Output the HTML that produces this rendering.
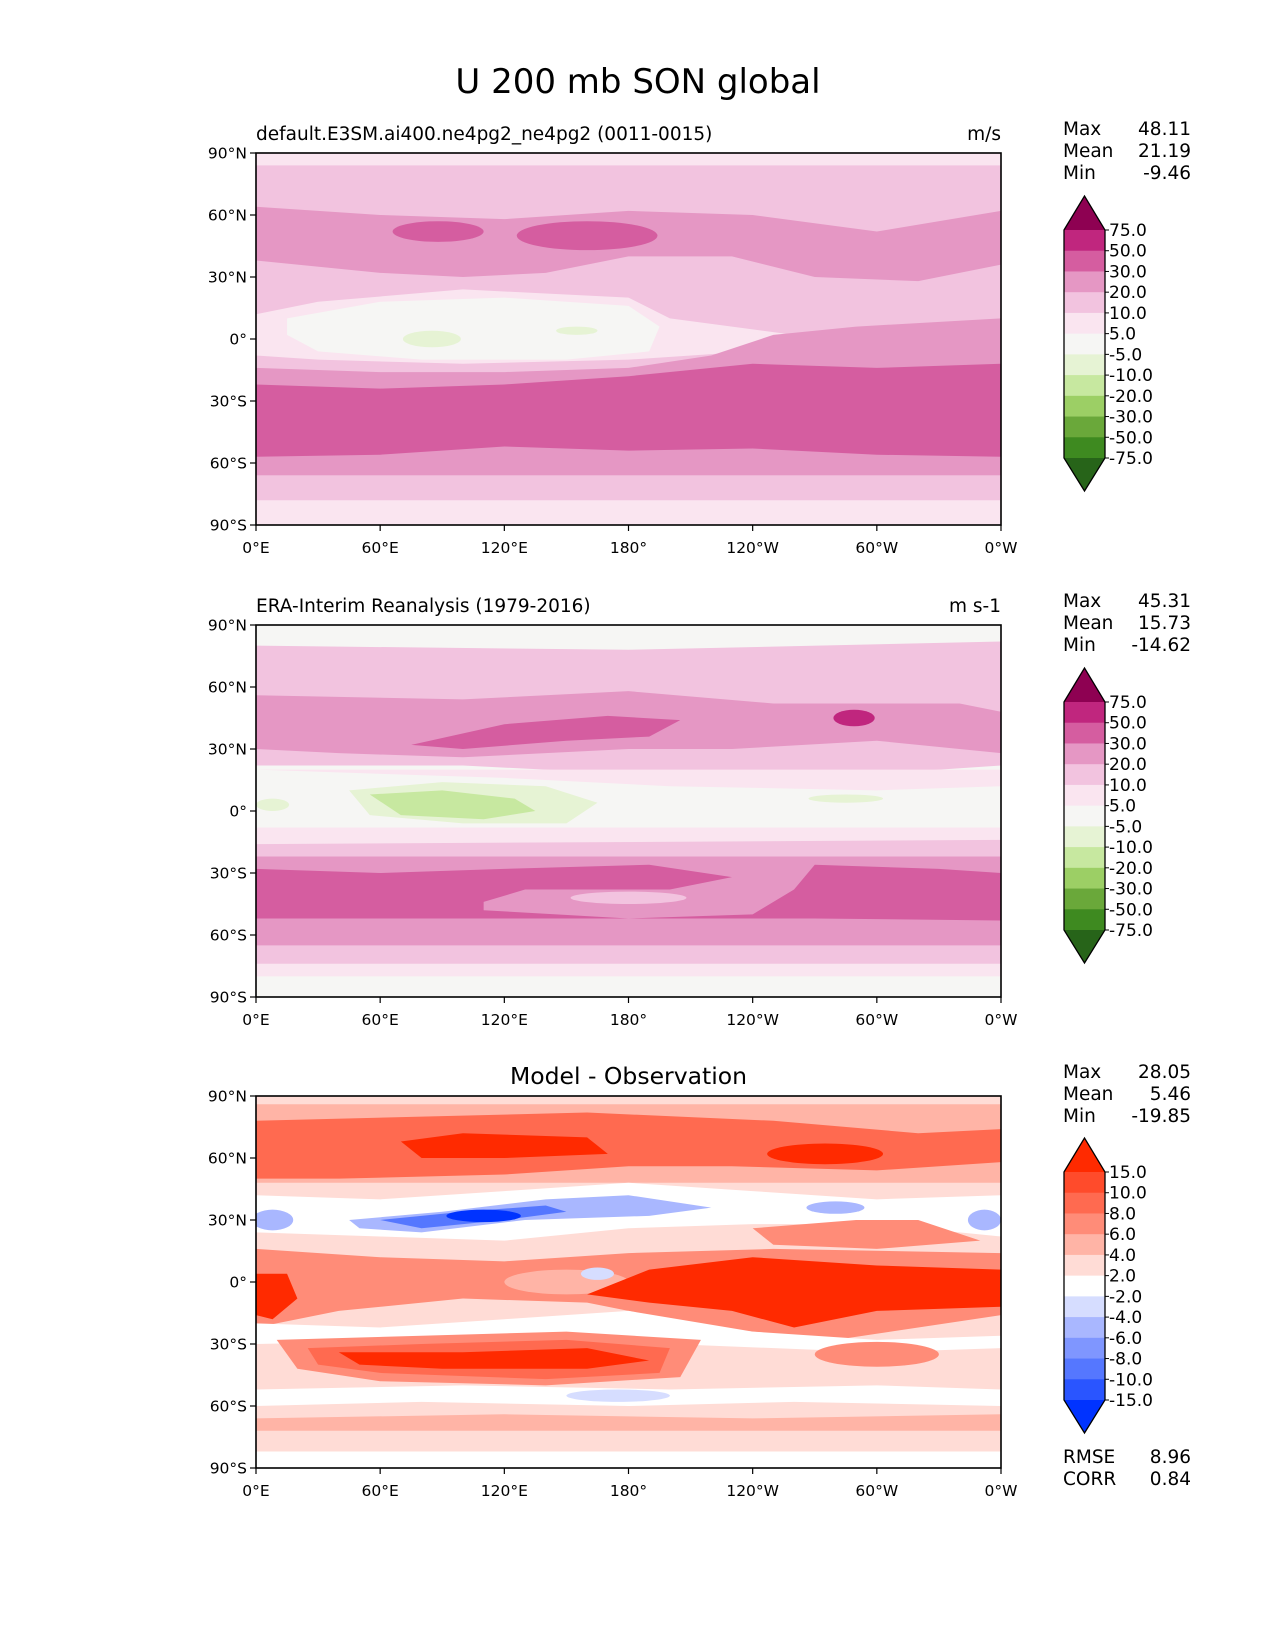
<!DOCTYPE html>
<html><head><meta charset="utf-8">
<style>
body{margin:0;background:#fff;}
svg{display:block;font-family:"DejaVu Sans","Liberation Sans",sans-serif;}
</style></head>
<body>
<svg id="fig" width="1275" height="1650" viewBox="0 0 1275 1650" xmlns="http://www.w3.org/2000/svg">
<text x="638" y="93" font-size="34" text-anchor="middle">U 200 mb SON global</text>
</svg>
<script>
// ---- data ----
const cmapMain = ["#8e0152","#c0267e","#d55da0","#e597c4","#f2c3df","#fae5f0","#f6f6f4","#e6f3d4","#c7e8a0","#9ccf65","#6aa83a","#3e8a20","#276419"];
const levelsMain = ["75.0","50.0","30.0","20.0","10.0","5.0","-5.0","-10.0","-20.0","-30.0","-50.0","-75.0"];
const cmapDiff = ["#ff2a00","#ff4b2b","#ff6a50","#ff8c78","#ffb4a6","#ffdcd6","#ffffff","#d6ddff","#a9b7ff","#7f96ff","#5577ff","#2a55ff","#0033ff"];
const levelsDiff = ["15.0","10.0","8.0","6.0","4.0","2.0","-2.0","-4.0","-6.0","-8.0","-10.0","-15.0"];
const latTicks = [90,60,30,0,-30,-60,-90];
const latLabels = ["90°N","60°N","30°N","0°","30°S","60°S","90°S"];
const lonTicks = [0,60,120,180,240,300,360];
const lonLabels = ["0°E","60°E","120°E","180°","120°W","60°W","0°W"];
const statsModel = [["Max","48.11"],["Mean","21.19"],["Min","-9.46"]];
const statsObs = [["Max","45.31"],["Mean","15.73"],["Min","-14.62"]];
const statsDiff = [["Max","28.05"],["Mean","5.46"],["Min","-19.85"]];
const metricsDiff = [["RMSE","8.96"],["CORR","0.84"]];
const fieldModel = [
 {c:4,p:[[0,90],[360,90],[360,-90],[0,-90]]},
 {c:5,p:[[0,90],[360,90],[360,84],[0,84]]},
 {c:3,p:[[0,64],[60,60],[120,58],[180,62],[240,60],[300,52],[360,62],[360,36],[320,28],[270,30],[230,40],[180,40],[140,32],[100,30],[60,32],[0,38]]},
 {c:2,e:[88,52,22,5]},{c:2,e:[160,50,34,7]},
 {c:5,p:[[0,12],[30,18],[100,24],[180,20],[200,10],[230,6],[260,2],[240,-6],[180,-10],[100,-12],[30,-10],[0,-8]]},
 {c:6,p:[[15,10],[60,18],[120,20],[180,16],[195,6],[190,-6],[150,-10],[80,-10],[30,-6],[15,2]]},
 {c:7,e:[85,0,14,4]},{c:7,e:[155,4,10,2]},
 {c:3,p:[[0,-14],[60,-16],[120,-16],[180,-14],[220,-8],[250,2],[290,6],[360,10],[360,-66],[0,-66]]},
 {c:2,p:[[0,-22],[60,-24],[120,-22],[180,-18],[240,-12],[300,-14],[360,-12],[360,-57],[300,-56],[240,-53],[180,-54],[120,-52],[60,-56],[0,-57]]},
 {c:4,p:[[0,-66],[360,-66],[360,-78],[0,-78]]},
 {c:5,p:[[0,-78],[360,-78],[360,-90],[0,-90]]}
];
const fieldObs = [
 {c:6,p:[[0,90],[360,90],[360,-90],[0,-90]]},
 {c:4,p:[[0,80],[180,78],[360,82],[360,22],[300,18],[240,14],[180,18],[100,22],[0,22]]},
 {c:3,p:[[0,56],[100,54],[180,58],[250,52],[340,52],[360,48],[360,28],[300,34],[230,30],[180,30],[100,26],[40,28],[0,30]]},
 {c:2,p:[[75,32],[120,42],[170,46],[205,44],[190,36],[150,34],[100,30]]},
 {c:1,e:[289,45,10,4]},
 {c:5,p:[[0,20],[120,16],[200,12],[300,10],[360,12],[360,20],[0,20]]},
 {c:7,p:[[45,10],[90,14],[140,12],[165,4],[150,-6],[100,-6],[55,-2]]},
 {c:8,p:[[55,8],[90,10],[125,6],[135,0],[110,-4],[70,-2]]},
 {c:7,e:[285,6,18,2]},{c:7,e:[8,3,8,3]},
 {c:5,p:[[0,-8],[360,-8],[360,-20],[0,-20]]},
 {c:4,p:[[0,-16],[360,-14],[360,-24],[0,-24]]},
 {c:3,p:[[0,-22],[360,-22],[360,-68],[0,-68]]},
 {c:2,p:[[0,-28],[60,-30],[120,-28],[190,-26],[230,-32],[200,-38],[130,-38],[110,-44],[110,-48],[180,-52],[240,-50],[260,-38],[270,-26],[330,-28],[360,-30],[360,-53],[270,-52],[190,-52],[100,-52],[0,-52]]},
 {c:4,e:[180,-42,28,3]},
 {c:4,p:[[0,-65],[360,-65],[360,-74],[0,-74]]},
 {c:5,p:[[0,-74],[360,-74],[360,-80],[0,-80]]}
];
const fieldDiff = [
 {c:5,p:[[0,90],[360,90],[360,-90],[0,-90]]},
 {c:4,p:[[0,86],[360,86],[360,48],[0,48]]},
 {c:2,p:[[0,78],[80,80],[160,82],[250,78],[320,72],[360,74],[360,58],[300,54],[230,56],[180,56],[120,52],[40,50],[0,50]]},
 {c:0,p:[[70,68],[100,72],[160,70],[170,62],[120,60],[80,60]]},
 {c:0,e:[275,62,28,5]},
 {c:6,p:[[0,42],[60,40],[120,44],[180,48],[240,44],[300,40],[360,42],[360,22],[300,28],[240,28],[180,26],[120,20],[60,22],[0,24]]},
 {c:8,p:[[45,30],[90,34],[140,40],[180,42],[220,36],[190,32],[130,30],[80,24],[50,26]]},
 {c:10,p:[[60,30],[100,34],[140,37],[150,34],[120,30],[80,26]]},
 {c:12,e:[110,32,18,3]},
 {c:8,e:[8,30,10,5]},{c:8,e:[352,30,8,5]},{c:8,e:[280,36,14,3]},
 {c:3,p:[[240,26],[290,30],[320,30],[350,20],[300,16],[250,18]]},
 {c:3,p:[[0,16],[60,12],[120,10],[180,14],[250,16],[360,14],[360,-16],[280,-28],[220,-22],[160,-10],[100,-8],[40,-14],[0,-22]]},
 {c:4,e:[150,0,30,6]},
 {c:0,p:[[190,6],[240,12],[300,8],[360,6],[360,-12],[300,-14],[260,-22],[230,-14],[190,-10],[160,-6]]},
 {c:0,p:[[0,4],[15,4],[20,-8],[8,-18],[0,-16]]},
 {c:7,e:[165,4,8,3]},
 {c:6,p:[[0,-20],[60,-22],[120,-18],[180,-14],[240,-24],[300,-28],[360,-26],[360,-32],[300,-34],[200,-30],[100,-28],[0,-30]]},
 {c:3,p:[[10,-28],[80,-26],[150,-24],[215,-28],[205,-46],[140,-50],[60,-48],[20,-42]]},
 {c:2,p:[[25,-32],[80,-30],[150,-28],[200,-32],[195,-44],[140,-47],[60,-44],[30,-40]]},
 {c:0,p:[[40,-34],[100,-34],[160,-32],[190,-38],[160,-42],[90,-42],[50,-40]]},
 {c:3,e:[300,-35,30,6]},
 {c:6,p:[[0,-52],[100,-50],[200,-52],[300,-50],[360,-52],[360,-60],[260,-58],[180,-60],[80,-58],[0,-60]]},
 {c:7,e:[175,-55,25,3]},
 {c:4,p:[[0,-66],[120,-64],[240,-66],[360,-64],[360,-72],[0,-72]]},
 {c:6,p:[[0,-82],[360,-82],[360,-90],[0,-90]]}
];
// ---- drawing ----
const NS="http://www.w3.org/2000/svg";
const svg=document.getElementById('fig');
function mk(tag,attrs,parent){const e=document.createElementNS(NS,tag);for(const k in attrs)e.setAttribute(k,attrs[k]);(parent||svg).appendChild(e);return e;}
const MX=256,MW=745,MH=372;
function drawPanel(y0,field,cmap,title,units,centerTitle,pname){
  const g=mk('g',{});
  
  
  const lonX=l=>MX+l/360*MW, latY=la=>y0+(90-la)/180*MH;
  const cid='clip'+y0;
  const cp=mk('clipPath',{id:cid},g);mk('rect',{x:MX,y:y0,width:MW,height:MH},cp);
  const fg=mk('g',{'clip-path':'url(#'+cid+')'},g);
  field.forEach(s=>{
    let el;
    if(s.p){el=mk('polygon',{points:s.p.map(q=>lonX(q[0])+','+latY(q[1])).join(' '),fill:cmap[s.c]},fg);}
    else{el=mk('ellipse',{cx:lonX(s.e[0]),cy:latY(s.e[1]),rx:s.e[2]/360*MW,ry:s.e[3]/180*MH,fill:cmap[s.c]},fg);}
    
    
  });
  mk('rect',{x:MX,y:y0,width:MW,height:MH,fill:'none',stroke:'#000','stroke-width':1.6},g);
  latTicks.forEach((la,i)=>{const y=latY(la);mk('line',{x1:MX-6,x2:MX,y1:y,y2:y,stroke:'#000','stroke-width':1.2},g);
    const t=mk('text',{x:MX-9,y:y+5.5,'font-size':15.5,'text-anchor':'end'},g);t.textContent=latLabels[i];
    });
  lonTicks.forEach((lo,i)=>{const x=lonX(lo);mk('line',{x1:x,x2:x,y1:y0+MH,y2:y0+MH+6,stroke:'#000','stroke-width':1.2},g);
    const t=mk('text',{x:x,y:y0+MH+28,'font-size':15.5,'text-anchor':'middle'},g);t.textContent=lonLabels[i];
    });
  if(centerTitle){const t=mk('text',{x:MX+MW/2,y:y0-12,'font-size':23.5,'text-anchor':'middle'},g);t.textContent=title;
    }
  else{const t=mk('text',{x:MX,y:y0-13,'font-size':18.5},g);t.textContent=title;
    
    const u=mk('text',{x:MX+MW,y:y0-13,'font-size':18.5,'text-anchor':'end'},g);u.textContent=units;
    }
}
function drawStats(y0,rows,name){rows.forEach((r,i)=>{
  const a=mk('text',{x:1063,y:y0+i*22,'font-size':18.5});a.textContent=r[0];
  
  const b=mk('text',{x:1191,y:y0+i*22,'font-size':18.5,'text-anchor':'end'});b.textContent=r[1];
  });}
function drawCbar(tip,top,bot,tipb,cmap,labels,name){
  const g=mk('g',{});
  const x0=1064,x1=1105,n=labels.length-1,h=(bot-top)/n;
  mk('polygon',{points:`${x0},${top} ${(x0+x1)/2},${tip} ${x1},${top}`,fill:cmap[0]},g);
  for(let i=0;i<n;i++)mk('rect',{x:x0,y:top+i*h,width:x1-x0,height:h+0.5,fill:cmap[i+1]},g);
  mk('polygon',{points:`${x0},${bot} ${(x0+x1)/2},${tipb} ${x1},${bot}`,fill:cmap[cmap.length-1]},g);
  mk('polygon',{points:`${x0},${top} ${(x0+x1)/2},${tip} ${x1},${top} ${x1},${bot} ${(x0+x1)/2},${tipb} ${x0},${bot}`,fill:'none',stroke:'#000','stroke-width':1.3},g);
  labels.forEach((l,i)=>{const y=top+i*h;mk('line',{x1:x1,x2:x1+4,y1:y,y2:y,stroke:'#000'},g);
    const t=mk('text',{x:x1+4,y:y+6,'font-size':17},g);t.textContent=l;
    });
}
drawPanel(153,fieldModel,cmapMain,"default.E3SM.ai400.ne4pg2_ne4pg2 (0011-0015)","m/s",false,'model');
drawPanel(625,fieldObs,cmapMain,"ERA-Interim Reanalysis (1979-2016)","m s-1",false,'obs');
drawPanel(1096,fieldDiff,cmapDiff,"Model - Observation","",true,'diff');
drawStats(135,statsModel,'model-stat');
drawStats(607,statsObs,'obs-stat');
drawStats(1078,statsDiff,'diff-stat');
drawStats(1463,metricsDiff,'diff-metric');
drawCbar(196,230,458,491,cmapMain,levelsMain,'model-colorbar');
drawCbar(668,702,930,963,cmapMain,levelsMain,'obs-colorbar');
drawCbar(1138,1172,1400,1433,cmapDiff,levelsDiff,'diff-colorbar');
</script>
</body></html>
